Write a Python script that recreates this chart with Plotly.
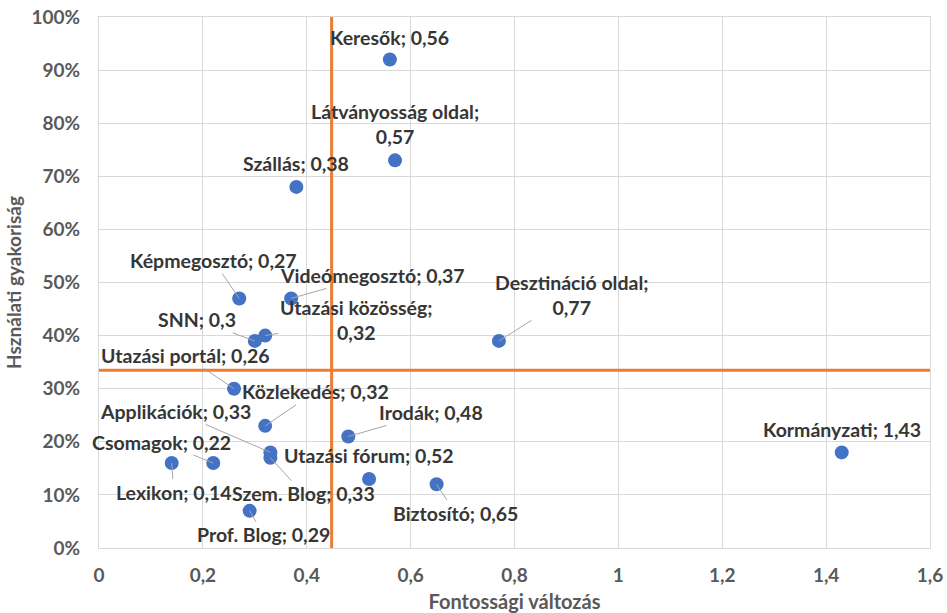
import plotly.graph_objects as go

# ---- data ----
names = ["Keresők", "Látványosság oldal", "Szállás", "Képmegosztó", "Videómegosztó",
         "SNN", "Utazási közösség", "Desztináció oldal", "Utazási portál", "Közlekedés",
         "Applikációk", "Irodák", "Csomagok", "Utazási fórum", "Lexikon",
         "Szem. Blog", "Biztosító", "Prof. Blog", "Kormányzati"]
importance_change = [0.56, 0.57, 0.38, 0.27, 0.37, 0.30, 0.32, 0.77, 0.26, 0.32,
                     0.33, 0.48, 0.22, 0.52, 0.14, 0.33, 0.65, 0.29, 1.43]
usage_freq = [0.92, 0.73, 0.68, 0.47, 0.47, 0.39, 0.40, 0.39, 0.30, 0.23,
              0.18, 0.21, 0.16, 0.13, 0.16, 0.17, 0.12, 0.07, 0.18]
wrapped_labels = {"Látványosság oldal", "Utazási közösség", "Desztináció oldal"}

x_title = "Fontossági változás"
y_title = "Hsználati gyakoriság"

# ---- label placement (pixel offsets from point, leader line flag) ----
label_offsets = [(0, -22, False), (0, -36, False), (0, -23, False), (-26, -38, True),
                 (81, -23, True), (-58, -21, True), (91, -16, True), (73, -46, True),
                 (-49, -33, True), (50, -34, True), (-95, -41, True), (83, -24, True),
                 (-52, -21, True), (0, -23, False), (2, 29, True), (33, 36, True),
                 (19, 29, True), (14, 24, True), (0, -23, False)]

FONT = "Lato"
BLUE = "#4472C4"
ORANGE = "#ED7D31"
GRID = "#D9D9D9"
LABEL_COLOR = "#363636"
TICK_COLOR = "#595959"

mean_x = sum(importance_change) / len(importance_change)
mean_y = sum(usage_freq) / len(usage_freq)

fig = go.Figure()
fig.add_trace(go.Scatter(
    x=importance_change, y=usage_freq, mode="markers",
    marker=dict(color=BLUE, size=14, line=dict(width=0)),
    hoverinfo="skip", showlegend=False,
))

annotations = []
for n, xv, yv, (ax, ay, leader) in zip(names, importance_change, usage_freq, label_offsets):
    val = f"{xv:g}".replace(".", ",")
    text = f"{n};<br>{val}" if n in wrapped_labels else f"{n}; {val}"
    annotations.append(dict(
        x=xv, y=yv, xref="x", yref="y", text=f"<b>{text}</b>",
        showarrow=True, ax=ax, ay=ay, axref="pixel", ayref="pixel",
        arrowhead=0, arrowwidth=1,
        arrowcolor="#A6A6A6" if leader else "rgba(0,0,0,0)",
        standoff=0, startstandoff=0,
        font=dict(family=FONT, size=19.5, color=LABEL_COLOR),
    ))

shapes = [
    dict(type="line", xref="x", yref="y", x0=mean_x, x1=mean_x, y0=0, y1=1,
         line=dict(color=ORANGE, width=3), layer="between"),
    dict(type="line", xref="x", yref="y", x0=0, x1=1.6, y0=mean_y, y1=mean_y,
         line=dict(color=ORANGE, width=3), layer="between"),
]

fig.update_layout(
    width=947, height=613,
    margin=dict(l=99, r=17, t=17, b=65),
    paper_bgcolor="white", plot_bgcolor="white",
    separators=", ",
    annotations=annotations, shapes=shapes,
    font=dict(family=FONT),
)
fig.update_xaxes(
    range=[0, 1.6], dtick=0.2, tick0=0, automargin=False,
    showgrid=True, gridcolor=GRID, gridwidth=1, zeroline=False,
    showline=True, linecolor=GRID, linewidth=1, mirror=True,
    ticks="", ticklabelstandoff=10,
    tickfont=dict(family=FONT, size=19, color=TICK_COLOR, weight="bold"),
    title=dict(text=x_title, standoff=14,
               font=dict(family=FONT, size=20, color=TICK_COLOR, weight="bold")),
)
fig.update_yaxes(
    range=[0, 1], dtick=0.1, tick0=0, tickformat=".0%", automargin=False,
    showgrid=True, gridcolor=GRID, gridwidth=1, zeroline=False,
    showline=True, linecolor=GRID, linewidth=1, mirror=True,
    ticks="", ticklabelstandoff=14,
    tickfont=dict(family=FONT, size=19, color=TICK_COLOR, weight="bold"),
    title=dict(text=y_title, standoff=4,
               font=dict(family=FONT, size=19, color=TICK_COLOR, weight="bold")),
)

fig.write_html("out.html")
